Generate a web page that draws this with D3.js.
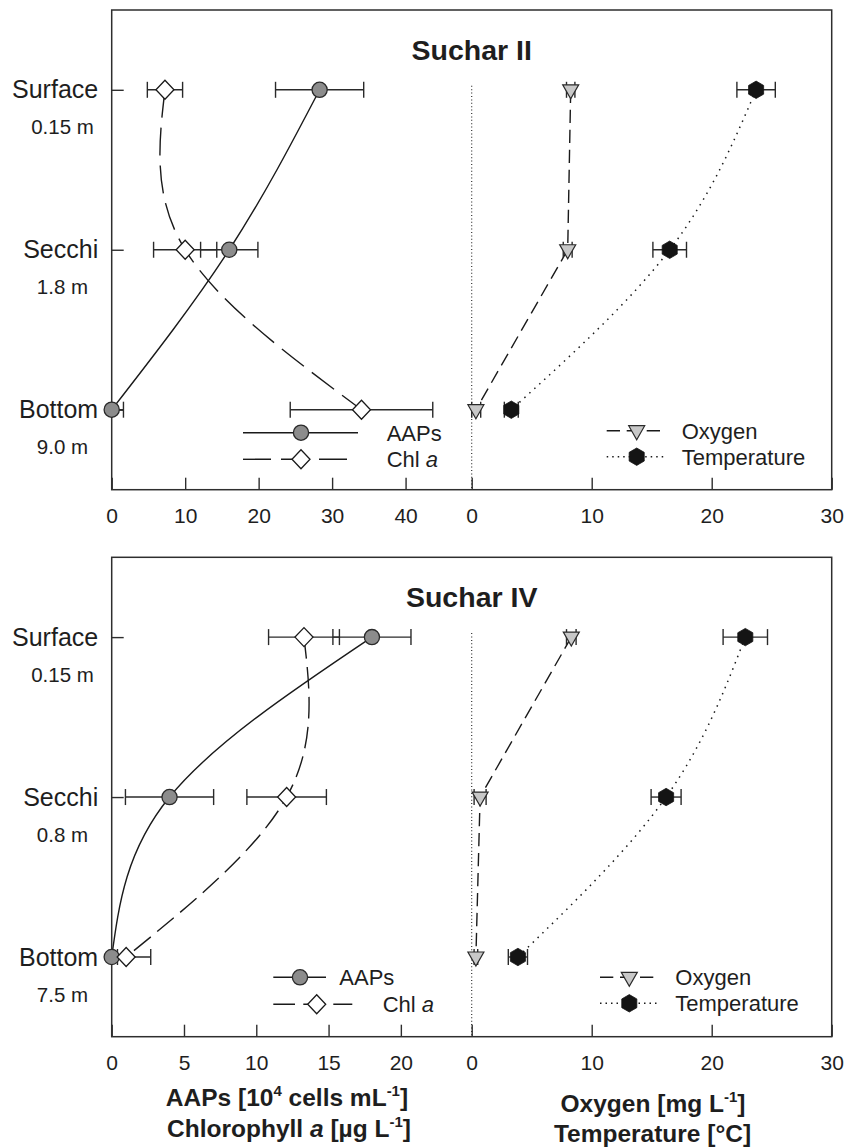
<!DOCTYPE html>
<html><head><meta charset="utf-8">
<script src="https://cdn.jsdelivr.net/npm/d3@7"></script>
<style>
body{margin:0;background:#fff}
svg{display:block}
text{font-family:"Liberation Sans",Arial,Helvetica,sans-serif;fill:#1e1e1e}
</style>
</head><body>
<svg id="chart" width="858" height="1147"></svg>
<script>
// ---------- data ----------
const categories = ["Surface", "Secchi", "Bottom"];
const depthsII = ["0.15 m", "1.8 m", "9.0 m"];
const depthsIV = ["0.15 m", "0.8 m", "7.5 m"];
const leftTicksII = [0, 10, 20, 30, 40];
const leftTicksIV = [0, 5, 10, 15, 20];
const rightTicks = [0, 10, 20, 30];

// Suchar II
const aapsII = [28.3, 16.0, 0];
const aapsErrII = [6.0, 3.9, 1.6];
const chlII = [7.25, 10.0, 34.0];
const chlErrII = [2.4, 4.3, 9.7];
const oxyII = [8.25, 8.0, 0.35];
const oxyErrII = [0.35, 0.37, 0.4];
const tempII = [23.7, 16.5, 3.3];
const tempErrII = [1.6, 1.4, 0.58];

// Suchar IV
const aapsIV = [18.0, 4.0, 0];
const aapsErrIV = [2.7, 3.05, 0.4];
const chlIV = [13.3, 12.1, 1.0];
const chlErrIV = [2.45, 2.75, 1.7];
const oxyIV = [8.3, 0.7, 0.35];
const oxyErrIV = [0.4, 0.5, 0.15];
const tempIV = [22.8, 16.2, 3.85];
const tempErrIV = [1.85, 1.25, 0.8];

// ---------- layout ----------
const svg = d3.select("#chart");
const L = 111.7, R = 831.7, MID = 471.7;
const ink = "#1a1a1a";

const panels = [
  {title: "Suchar II", top: 10, bottom: 489.7, leftMax: 49, leftTicks: leftTicksII, depths: depthsII,
   aaps: aapsII, aapsErr: aapsErrII, chl: chlII, chlErr: chlErrII, oxy: oxyII, oxyErr: oxyErrII, temp: tempII, tempErr: tempErrII,
   chlDash: "28,10", leg: {lx1: 243, lx2a: 358, lx2b: 348, lsym: 301, ltxtA: 386.7, ltxtC: 386.7, ly1: 432.7, ly2: 459.3,
     rx1: 606.7, rx2a: 660, rx2b: 665, rsym: 636.7, rtxt: 681.7, ry1: 430.7, ry2: 456.7}},
  {title: "Suchar IV", top: 557.3, bottom: 1036.7, leftMax: 24.9, leftTicks: leftTicksIV, depths: depthsIV,
   aaps: aapsIV, aapsErr: aapsErrIV, chl: chlIV, chlErr: chlErrIV, oxy: oxyIV, oxyErr: oxyErrIV, temp: tempIV, tempErr: tempErrIV,
   chlDash: "21.7,8.3", leg: {lx1: 273.3, lx2a: 326, lx2b: 352.3, lsym: 300, lsymC: 316.7, ltxtA: 339.3, ltxtC: 382.7, ly1: 977.3, ly2: 1004.3,
     rx1: 600, rx2a: 654, rx2b: 657, rsym: 629.3, rtxt: 675.3, ry1: 977.3, ry2: 1003.3}}
];

// marker shapes (relative paths)
const diamondPath = "M0,-9.5L9,0L0,9.5L-9,0Z";
const trianglePath = "M-8,-5L8,-5L0,9Z";
const hexPath = (() => {
  const r = 8.7, pts = [];
  for (let i = 0; i < 6; i++) { const a = (-90 + 60 * i) * Math.PI / 180; pts.push([r * Math.cos(a), r * Math.sin(a)]); }
  return "M" + pts.map(p => p[0].toFixed(2) + "," + p[1].toFixed(2)).join("L") + "Z";
})();

function drawMarker(g, type, x, y) {
  if (type === "circle") g.append("circle").attr("cx", x).attr("cy", y).attr("r", 7.6).attr("fill", "#8c8c8c").attr("stroke", "#2a2a2a").attr("stroke-width", 1.3);
  else if (type === "diamond") g.append("path").attr("d", diamondPath).attr("transform", `translate(${x},${y})`).attr("fill", "#fff").attr("stroke", "#1a1a1a").attr("stroke-width", 1.3);
  else if (type === "triangle") g.append("path").attr("d", trianglePath).attr("transform", `translate(${x},${y})`).attr("fill", "#c8c8c8").attr("stroke", "#2a2a2a").attr("stroke-width", 1.2);
  else if (type === "hex") g.append("path").attr("d", hexPath).attr("transform", `translate(${x},${y})`).attr("fill", "#141414").attr("stroke", "#141414").attr("stroke-width", 0.8);
}

panels.forEach(p => {
  const g = svg.append("g");
  const y = d3.scalePoint().domain(categories).range([p.top + 79.8, p.top + 399.7]);
  const xL = d3.scaleLinear().domain([0, p.leftMax]).range([L, MID]);
  const xR = d3.scaleLinear().domain([0, 30]).range([MID, R]);

  // frame
  g.append("rect").attr("x", L).attr("y", p.top).attr("width", R - L).attr("height", p.bottom - p.top)
    .attr("fill", "none").attr("stroke", "#2e2e2e").attr("stroke-width", 1.5);

  // x axes (ticks inward)
  const axL = g.append("g").attr("transform", `translate(0,${p.bottom})`)
    .call(d3.axisBottom(xL).tickValues(p.leftTicks).tickSizeInner(-12).tickSizeOuter(0).tickPadding(18).tickFormat(d3.format("d")));
  const axR = g.append("g").attr("transform", `translate(0,${p.bottom})`)
    .call(d3.axisBottom(xR).tickValues(rightTicks).tickSizeInner(-12).tickSizeOuter(0).tickPadding(18).tickFormat(d3.format("d")));
  [axL, axR].forEach(a => {
    a.select(".domain").remove();
    a.selectAll(".tick line").attr("stroke", "#2e2e2e").attr("stroke-width", 1.4);
    a.selectAll(".tick text").attr("font-size", 21).attr("font-family", '"Liberation Sans",Arial,sans-serif').attr("fill", "#1e1e1e");
  });

  // y axis (categories)
  const ay = g.append("g").attr("transform", `translate(${L},0)`)
    .call(d3.axisLeft(y).tickSizeInner(-12).tickSizeOuter(0).tickPadding(13.5));
  ay.select(".domain").remove();
  ay.selectAll(".tick line").attr("stroke", "#2e2e2e").attr("stroke-width", 1.4);
  ay.selectAll(".tick text").attr("font-size", 25).attr("font-family", '"Liberation Sans",Arial,sans-serif').attr("fill", "#1e1e1e");

  // depth labels
  g.selectAll(".depth").data(p.depths).join("text")
    .attr("x", 62.5).attr("y", (d, i) => y(categories[i]) + 44.5)
    .attr("text-anchor", "middle").attr("font-size", 20.5).text(d => d);

  // title
  g.append("text").attr("x", MID).attr("y", p.top + 50).attr("text-anchor", "middle")
    .attr("font-size", 28.5).attr("font-weight", "bold").attr("fill", "#111").text(p.title);

  // zero line for right scale
  g.append("line").attr("x1", xR(0)).attr("x2", xR(0)).attr("y1", y("Surface") - 4).attr("y2", p.bottom)
    .attr("stroke", "#222").attr("stroke-width", 1.1).attr("stroke-dasharray", "1,2.4");

  const series = [
    {vals: p.aaps, err: p.aapsErr, x: xL, type: "circle", curve: d3.curveNatural, dash: null, w: 1.4},
    {vals: p.chl, err: p.chlErr, x: xL, type: "diamond", curve: d3.curveNatural, dash: p.chlDash, w: 1.4},
    {vals: p.oxy, err: p.oxyErr, x: xR, type: "triangle", curve: d3.curveLinear, dash: "13.3,6.7", w: 1.4},
    {vals: p.temp, err: p.tempErr, x: xR, type: "hex", curve: d3.curveNatural, dash: "1.5,5.2", w: 1.5}
  ];

  // lines
  series.forEach(s => {
    const pts = s.vals.map((v, i) => ({v, c: categories[i]}));
    g.append("path").datum(pts)
      .attr("d", d3.line().x(d => s.x(d.v)).y(d => y(d.c)).curve(s.curve))
      .attr("fill", "none").attr("stroke", ink).attr("stroke-width", s.w)
      .attr("stroke-dasharray", s.dash);
  });

  // error bars
  series.forEach(s => {
    s.vals.forEach((v, i) => {
      const cy = y(categories[i]);
      const lo = s.x(Math.max(0, v - s.err[i])), hi = s.x(v + s.err[i]);
      g.append("line").attr("x1", lo).attr("x2", hi).attr("y1", cy).attr("y2", cy).attr("stroke", "#2a2a2a").attr("stroke-width", 1.4);
      [lo, hi].forEach(xx => g.append("line").attr("x1", xx).attr("x2", xx).attr("y1", cy - 8).attr("y2", cy + 8).attr("stroke", "#2a2a2a").attr("stroke-width", 1.4));
    });
  });

  // markers
  series.forEach(s => {
    s.vals.forEach((v, i) => drawMarker(g, s.type, s.x(v), y(categories[i])));
  });

  // legends
  const lg = p.leg;
  g.append("line").attr("x1", lg.lx1).attr("x2", lg.lx2a).attr("y1", lg.ly1).attr("y2", lg.ly1).attr("stroke", ink).attr("stroke-width", 1.4);
  drawMarker(g, "circle", lg.lsym, lg.ly1);
  g.append("line").attr("x1", lg.lx1).attr("x2", lg.lx2b).attr("y1", lg.ly2).attr("y2", lg.ly2).attr("stroke", ink).attr("stroke-width", 1.4).attr("stroke-dasharray", p.chlDash);
  drawMarker(g, "diamond", lg.lsymC || lg.lsym, lg.ly2);
  g.append("text").attr("x", lg.ltxtA).attr("y", lg.ly1 + 8).attr("font-size", 22).text("AAPs");
  const tc = g.append("text").attr("x", lg.ltxtC).attr("y", lg.ly2 + 8).attr("font-size", 22);
  tc.append("tspan").text("Chl ");
  tc.append("tspan").attr("font-style", "italic").text("a");

  g.append("line").attr("x1", lg.rx1).attr("x2", lg.rx2a).attr("y1", lg.ry1).attr("y2", lg.ry1).attr("stroke", ink).attr("stroke-width", 1.4).attr("stroke-dasharray", "13.3,6.7");
  drawMarker(g, "triangle", lg.rsym, lg.ry1);
  g.append("line").attr("x1", lg.rx1).attr("x2", lg.rx2b).attr("y1", lg.ry2).attr("y2", lg.ry2).attr("stroke", ink).attr("stroke-width", 1.5).attr("stroke-dasharray", "1.5,4");
  drawMarker(g, "hex", lg.rsym, lg.ry2);
  g.append("text").attr("x", lg.rtxt).attr("y", lg.ry1 + 8).attr("font-size", 22).text("Oxygen");
  g.append("text").attr("x", lg.rtxt).attr("y", lg.ry2 + 8).attr("font-size", 22).text("Temperature");
});

// axis titles
function title(x, yy, parts) {
  const t = svg.append("text").attr("x", x).attr("y", yy).attr("text-anchor", "middle").attr("font-size", 24.5).attr("font-weight", "bold").attr("fill", "#111");
  parts.forEach(pt => {
    const s = t.append("tspan").text(pt.t);
    if (pt.sup) s.attr("font-size", 15).attr("dy", -10);
    if (pt.down) s.attr("dy", 10);
    if (pt.it) s.attr("font-style", "italic");
  });
}
title(287, 1105.5, [{t: "AAPs [10"}, {t: "4", sup: true}, {t: " cells mL", down: true}, {t: "-1", sup: true}, {t: "]", down: true}]);
title(289, 1136.5, [{t: "Chlorophyll "}, {t: "a", it: true}, {t: " [µg L"}, {t: "-1", sup: true}, {t: "]", down: true}]);
title(653, 1111.5, [{t: "Oxygen [mg L"}, {t: "-1", sup: true}, {t: "]", down: true}]);
title(652.5, 1141.5, [{t: "Temperature [°C]"}]);
</script>
</body></html>
